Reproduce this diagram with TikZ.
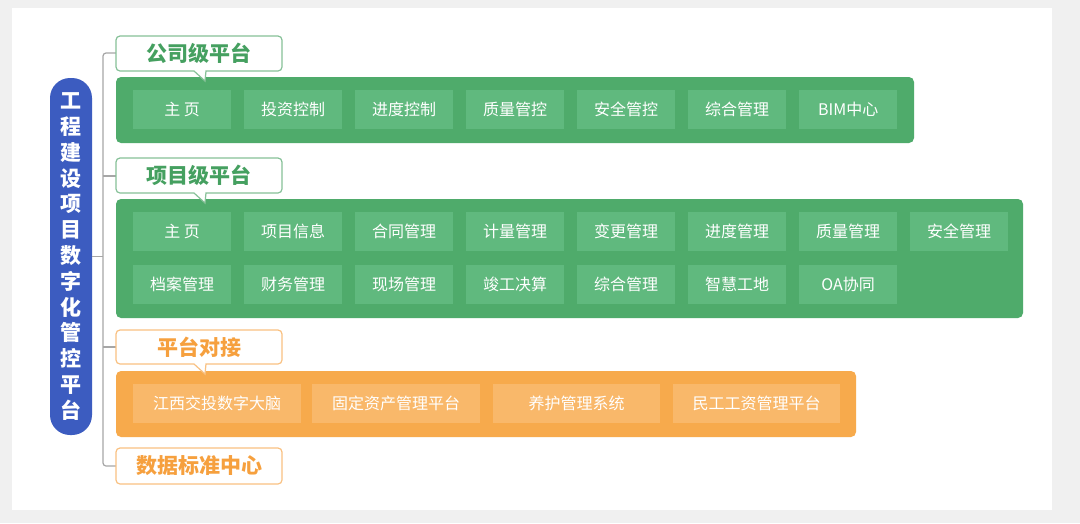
\documentclass[tikz,border=0pt]{standalone}
\usepackage{fontspec}
\setmainfont{Noto Sans CJK SC}
\begin{document}
\begin{tikzpicture}[x=1pt,y=-1pt,
  itemG/.style={fill=gitem,draw=none,minimum height=39pt,text=white,font=\fontsize{16}{16}\selectfont,anchor=north west},
  itemO/.style={fill=oitem,draw=none,minimum height=39pt,text=white,font=\fontsize{16}{16}\selectfont,anchor=north west},
  lbl/.style={fill=white,draw=#1!65,line width=1.2pt},
  ltxt/.style={font=\bfseries\fontsize{21}{21}\selectfont,text=#1},
  tree/.style={draw=gray!70,line width=1.2pt}]
\definecolor{gpanel}{HTML}{4FAB6B}
\definecolor{gitem}{HTML}{60B97E}
\definecolor{gtxt}{HTML}{45A060}
\definecolor{opanel}{HTML}{F7AA4C}
\definecolor{oitem}{HTML}{F9B86A}
\definecolor{otxt}{HTML}{F6A03E}
\definecolor{blue1}{HTML}{3C5CC0}
\fill[gray!12] (0,0) rectangle (1080,523);
\fill[white] (12,8) rectangle (1052,510);
\useasboundingbox (0,0) rectangle (1080,523);
% title pill
\fill[blue1,rounded corners=20pt] (50,78) rectangle (92,435);
\node[text=white,font=\bfseries\fontsize{21}{25.8}\selectfont,align=center] (title) at (71,256.5)
 {工\\程\\建\\设\\项\\目\\数\\字\\化\\管\\控\\平\\台};
% tree
\coordinate (t0) at (103,53);
\coordinate (t1) at (103,176);
\coordinate (t2) at (103,347);
\coordinate (t3) at (103,466);
\draw[tree] (92,256.5) -- (103,256.5);
\draw[tree,rounded corners=3pt] (116,53) -- (t0) -- (t3) -- (116,466);
\draw[tree] (t1) -- (116,176);
\draw[tree] (t2) -- (116,347);
% panels
\fill[gpanel,rounded corners=5pt] (116,77) rectangle (914,143);
\fill[gpanel,rounded corners=5pt] (116,199) rectangle (1023,318);
\fill[opanel,rounded corners=5pt] (116,371) rectangle (856,437);
% labels with callout tails
\newcommand{\calloutlbl}[3]{%
 \draw[lbl=#3,rounded corners=4pt] (116,#1) -- (282,#1) -- (282,#2) [sharp corners] -- (206,#2) -- (205,{#2+10}) -- (194,#2) [rounded corners=4pt] -- (116,#2) -- cycle;}
\calloutlbl{36}{71}{gtxt}
\calloutlbl{158}{193}{gtxt}
\calloutlbl{330}{364}{otxt}
\draw[lbl=otxt,rounded corners=4pt] (116,448) rectangle (282,484);
\node[ltxt=gtxt] (l1) at (199,53.5) {公司级平台};
\node[ltxt=gtxt] (l2) at (199,175.5) {项目级平台};
\node[ltxt=otxt] (l3) at (199,347) {平台对接};
\node[ltxt=otxt] (l4) at (199,466) {数据标准中心};
% rows
\foreach \t [count=\i from 0] in {主 页,投资控制,进度控制,质量管控,安全管控,综合管理,BIM中心}
  \node[itemG,minimum width=98pt] (a\i) at ({133+111*\i},90) {\t};
\foreach \t [count=\i from 0] in {主 页,项目信息,合同管理,计量管理,变更管理,进度管理,质量管理,安全管理}
  \node[itemG,minimum width=98pt] (b\i) at ({133+111*\i},212) {\t};
\foreach \t [count=\i from 0] in {档案管理,财务管理,现场管理,竣工决算,综合管理,智慧工地,OA协同}
  \node[itemG,minimum width=98pt] (c\i) at ({133+111*\i},265) {\t};
\node[itemO,minimum width=168pt] (o1) at (133,384) {江西交投数字大脑};
\node[itemO,minimum width=168pt] (o2) at (312,384) {固定资产管理平台};
\node[itemO,minimum width=167pt] (o3) at (493,384) {养护管理系统};
\node[itemO,minimum width=167pt] (o4) at (673,384) {民工工资管理平台};
\end{tikzpicture}
\end{document}
